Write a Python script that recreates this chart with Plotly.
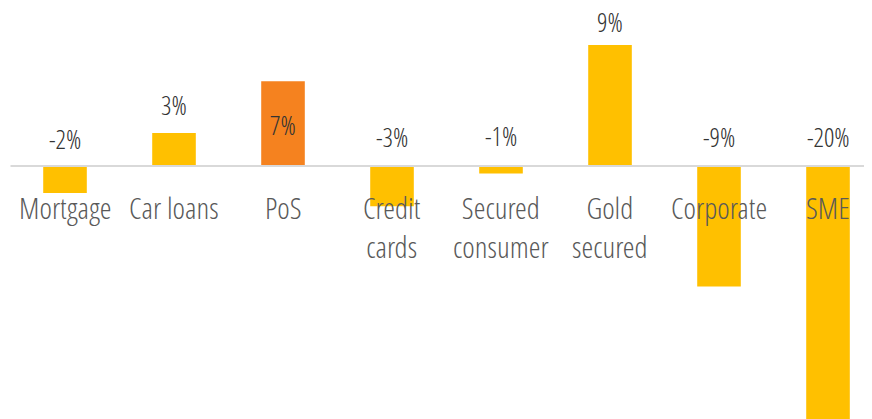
import plotly.graph_objects as go

categories = ['Mortgage', 'Car loans', 'PoS', 'Credit<br>cards', 'Secured<br>consumer',
              'Gold<br>secured', 'Corporate', 'SME']
values = [-2.0, 2.45, 6.3, -3.0, -0.55, 9.0, -8.97, -20.0]
labels = ['-2%', '3%', '7%', '-3%', '-1%', '9%', '-9%', '-20%']

YELLOW = '#FFC000'
ORANGE = '#F5821F'
colors = [ORANGE if c == 'PoS' else YELLOW for c in categories]
# pixel offset of each value label from the bar top (or zero line for negatives)
label_shift = [27, 28, -44, 29, 30, 23, 29, 29]

FONT = 'Open Sans Condensed Light, DejaVu Sans Condensed, sans-serif'

x = list(range(len(categories)))

fig = go.Figure(go.Bar(x=x, y=values, marker=dict(color=colors, line=dict(width=0)),
                       width=0.4, hoverinfo='skip'))

for i, (v, lab) in enumerate(zip(values, labels)):
    fig.add_annotation(x=i, y=max(v, 0), text=lab, showarrow=False,
                       yanchor='middle', yshift=label_shift[i],
                       font=dict(family=FONT, size=26, color='#333333'))
    fig.add_annotation(x=i, y=0, text=categories[i], showarrow=False,
                       yanchor='top', yshift=-19,
                       font=dict(family=FONT, size=30, color='#595959'))

# ranges account for the 8px page margin around the plot div
fig.update_layout(
    width=872, height=419,
    margin=dict(l=0, r=0, t=0, b=0),
    plot_bgcolor='white', paper_bgcolor='white',
    showlegend=False,
    xaxis=dict(range=[-0.523, 7.477], showticklabels=False, showgrid=False,
               zeroline=False, showline=False, fixedrange=True),
    yaxis=dict(range=[-19.41, 11.75], showticklabels=False, showgrid=False,
               zeroline=False, showline=False, fixedrange=True),
)
fig.add_shape(type='line', xref='x', yref='y', x0=-0.5, x1=7.6, y0=0, y1=0,
              line=dict(color='#D9D9D9', width=2), layer='above')

fig.write_html('out.html')
